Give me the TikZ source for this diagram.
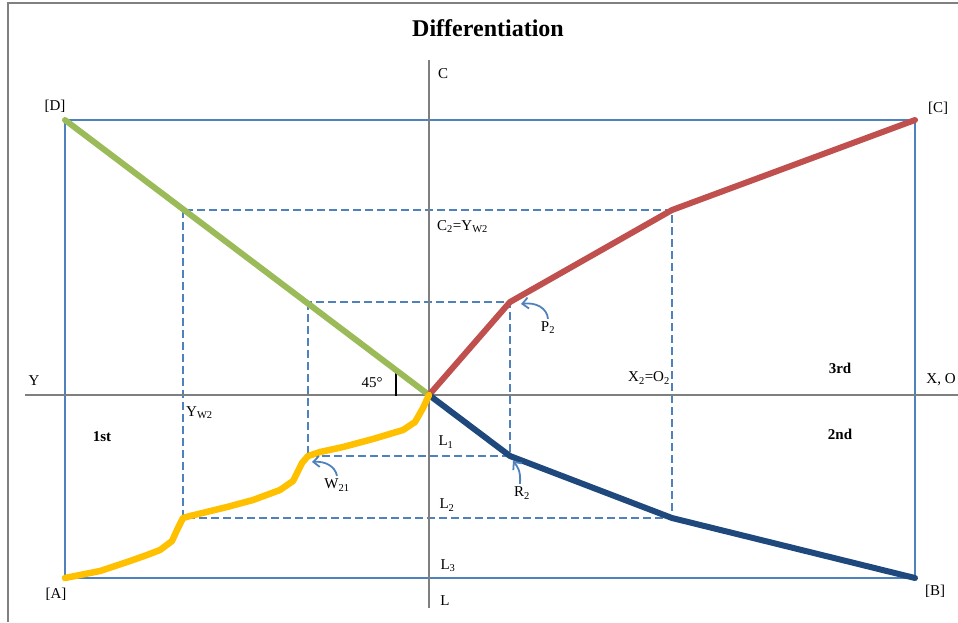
\documentclass[tikz,border=0pt]{standalone}
\usepackage{fontspec}
\setmainfont{Liberation Serif}
\usetikzlibrary{arrows.meta}
\definecolor{frameg}{HTML}{808080}
\definecolor{axisg}{HTML}{7F7F7F}
\definecolor{rblue}{HTML}{4F81BD}
\definecolor{lgreen}{HTML}{9BBB59}
\definecolor{lred}{HTML}{C0504D}
\definecolor{lnavy}{HTML}{1F497D}
\definecolor{lyellow}{HTML}{FFC000}
\begin{document}
\begin{tikzpicture}[x=1pt,y=-1pt,
 lbl/.style={font=\fontsize{15}{17}\selectfont, inner sep=0pt},
 qlbl/.style={font=\fontsize{15}{17}\selectfont\bfseries, inner sep=0pt},
 axisline/.style={draw=axisg, line width=1.8pt},
 outerbox/.style={draw=rblue, line width=1.8pt},
 guide/.style={draw=rblue, line width=1.8pt, dash pattern=on 8pt off 4pt},
 curveline/.style={line width=6pt, line cap=round, line join=round},
 pointer/.style={draw=rblue, line width=1.8pt, -{Straight Barb[length=6pt,width=11pt]}}
]
\useasboundingbox (0,0) rectangle (958,622);
% frame
\draw[frameg, line width=2.2pt] (8,622) -- (8,3) -- (958,3);
% title
\node[font=\fontsize{24}{27}\selectfont\bfseries, inner sep=0pt] (title) at (488,28) {Differentiation};
% key points
\coordinate (O) at (429,395);
\coordinate (A) at (65,578);
\coordinate (B) at (915,578);
\coordinate (C) at (915,120);
\coordinate (D) at (65,120);
\coordinate (P2) at (510,302);
\coordinate (R2) at (510,456);
\coordinate (W21) at (308,456);
\coordinate (C2) at (672,210);
\coordinate (B2) at (672,518);
\coordinate (A2) at (183,518);
\coordinate (D2) at (183,210);
\coordinate (Ytop) at (429,60);
\coordinate (Ybot) at (429,608);
\coordinate (Xl) at (25,395);
\coordinate (Xr) at (958,395);
% rectangles
\draw[outerbox] (D) rectangle (B);
\draw[guide] (D2) rectangle (B2);
\draw[guide] (W21 |- P2) rectangle (R2);
% axes
\draw[axisline] (Ytop) -- (Ybot);
\draw[axisline] (Xl) -- (Xr);
% 45 deg tick
\coordinate (t1) at (396,371);
\coordinate (t2) at (396,396);
\draw[black, line width=1.6pt] (t1) -- (t2);
% coloured lines
\draw[curveline, lgreen] (D) -- (O);
\draw[curveline, lred] (O) -- (P2) -- (C2) -- (C);
\draw[curveline, lnavy] (O) -- (R2) -- (B2) -- (B);
\draw[curveline, lyellow, line width=6.5pt] (O) -- (423,408) -- (415,422) -- (403,430) -- (373,439) -- (343,447) -- (320,452) -- (W21)
  -- (302,463) -- (293,481) -- (280,490) -- (253,500) -- (227,507) -- (190,516) -- (A2)
  -- (177,530) -- (172,541) -- (160,550) -- (147,555) -- (130,561) -- (100,571) -- (A);
% labels
\node[lbl] (lC) at (443,74) {C};
\node[lbl] (lD) at (55,106) {[D]};
\node[lbl] (lCC) at (938,108) {[C]};
\node[lbl, anchor=west] (lC2) at (437,227) {C\textsubscript{2}=Y\textsubscript{W2}};
\node[lbl] (lP2) at (548,328) {P\textsubscript{2}};
\node[lbl] (lY) at (34,381) {Y};
\node[lbl] (l45) at (372,383) {45°};
\node[lbl, anchor=east] (lX2) at (670,378) {X\textsubscript{2}=O\textsubscript{2}};
\node[qlbl] (l3rd) at (840,368) {3rd};
\node[lbl] (lXO) at (941,380) {X, O};
\node[lbl, anchor=west] (lYW) at (186,413) {Y\textsubscript{W2}};
\node[qlbl] (l1st) at (102,437) {1st};
\node[qlbl] (l2nd) at (840,434) {2nd};
\node[lbl] (lL1) at (446,442) {L\textsubscript{1}};
\node[lbl] (lW21) at (337,485) {W\textsubscript{21}};
\node[lbl] (lR2) at (522,493) {R\textsubscript{2}};
\node[lbl] (lL2) at (447,505) {L\textsubscript{2}};
\node[lbl] (lL3) at (448,566) {L\textsubscript{3}};
\node[lbl] (lA) at (56,594) {[A]};
\node[lbl] (lB) at (935,591) {[B]};
\node[lbl] (lL) at (445,601) {L};
% pointers
\draw[pointer] (lP2.north) ++(0,-3) .. controls (547,308) and (536,302) .. (521,304);
\draw[pointer] (lW21.north) ++(0,-3) .. controls (335,466) and (325,461) .. (312,462);
\draw[pointer] (lR2.north) ++(-2,-3) .. controls (521,470) and (517,466) .. (513,461);
\end{tikzpicture}
\end{document}
